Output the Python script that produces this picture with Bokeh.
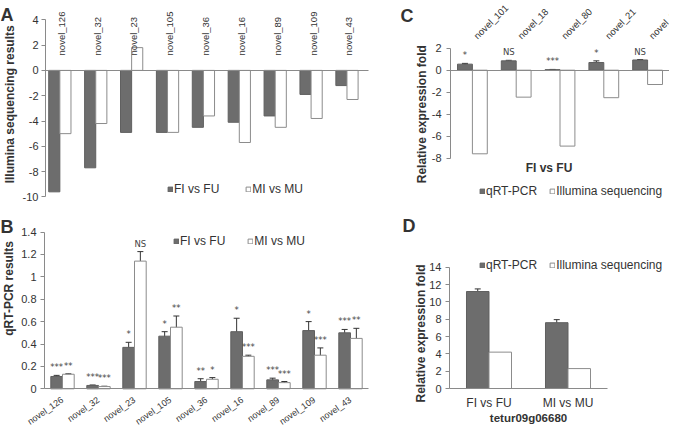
import math
from bokeh.plotting import figure
from bokeh.models import (Range1d, FixedTicker, ColumnDataSource, LabelSet, Label,
                          Legend, LegendItem, Whisker, TeeHead, LinearAxis)
from bokeh.core.properties import value
from bokeh.layouts import row, column
from bokeh.embed import file_html
from bokeh.resources import INLINE

# ---------------- data ----------------
A_genes = ["novel_126", "novel_32", "novel_23", "novel_105", "novel_36",
           "novel_16", "novel_89", "novel_109", "novel_43"]
A_fi_fu = [-9.6, -7.7, -4.9, -4.9, -4.5, -4.1, -3.6, -1.9, -1.2]
A_mi_mu = [-5.0, -4.2, 1.8, -4.9, -3.6, -5.7, -4.5, -3.8, -2.3]
A_ticks = [-10, -8, -6, -4, -2, 0, 2, 4]
A_tick_labels = ["-10", "-8", "-6", "-4", "-2", "0", "2", "4"]

B_genes = ["novel_126", "novel_32", "novel_23", "novel_105", "novel_36",
           "novel_16", "novel_89", "novel_109", "novel_43"]
B_fi_fu = [0.11, 0.03, 0.37, 0.47, 0.065, 0.51, 0.08, 0.52, 0.50]
B_fi_fu_err = [0.01, 0.004, 0.045, 0.04, 0.025, 0.12, 0.015, 0.08, 0.03]
B_mi_mu = [0.13, 0.02, 1.14, 0.55, 0.085, 0.29, 0.055, 0.30, 0.45]
B_mi_mu_err = [0.004, 0.003, 0.085, 0.10, 0.015, 0.01, 0.01, 0.065, 0.09]
B_fi_sig = ["***", "***", "*", "*", "**", "*", "***", "*", "***"]
B_mi_sig = ["**", "***", "NS", "**", "*", "***", "***", "***", "**"]
B_ticks = [0, 0.2, 0.4, 0.6, 0.8, 1, 1.2, 1.4]
B_tick_labels = ["0", "0.2", "0.4", "0.6", "0.8", "1", "1.2", "1.4"]

C_genes = ["novel_101", "novel_18", "novel_80", "novel_21", "novel_87"]
C_qrt = [0.55, 0.85, 0.05, 0.70, 0.93]
C_qrt_err = [0.07, 0.05, 0.02, 0.15, 0.04]
C_illumina = [-7.6, -2.45, -6.9, -2.5, -1.3]
C_sig = ["*", "NS", "***", "*", "NS"]
C_ticks = [-8, -6, -4, -2, 0, 2]
C_tick_labels = ["-8", "-6", "-4", "-2", "0", "2"]

D_groups = ["FI vs FU", "MI vs MU"]
D_qrt = [11.2, 7.6]
D_qrt_err = [0.3, 0.35]
D_illumina = [4.2, 2.3]
D_ticks = [0, 2, 4, 6, 8, 10, 12, 14]
D_tick_labels = ["0", "2", "4", "6", "8", "10", "12", "14"]

# ---------------- styles ----------------
FONT = "Liberation Sans"
SIGFONT = "DejaVu Sans"
DARK = "#6d6d6d"
DARK_LINE = "#606060"
WHITE_LINE = "#8c8c8c"
AXIS = "#8a8a8a"
TXT = "#333333"
ERR = "#333333"
SIGCOL = "#444444"


def make_fig(width, height, x_px0, x_v0, x_ppu, y_px0, y_v0, y_ppu):
    """Frame covers the whole figure; ranges set from a pixel anchor and a scale."""
    xs = x_v0 - x_px0 / x_ppu
    ye = y_v0 + y_px0 / y_ppu
    p = figure(width=width, height=height,
               x_range=Range1d(xs, xs + width / x_ppu),
               y_range=Range1d(ye - height / y_ppu, ye),
               output_backend="svg", toolbar_location=None,
               x_axis_location=None, y_axis_location=None,
               min_border=0, title_location=None)
    p.outline_line_color = None
    p.grid.visible = False
    return p


def add_axes(p, xb, yb, ticks, labels, standoff):
    ya = LinearAxis(fixed_location=xb[0], bounds=yb,
                    ticker=FixedTicker(ticks=ticks, minor_ticks=[]),
                    major_label_overrides={t: l for t, l in zip(ticks, labels)},
                    axis_line_color=AXIS, major_tick_line_color=AXIS,
                    major_tick_out=4, major_tick_in=0, minor_tick_line_color=None,
                    major_label_text_font=FONT, major_label_text_font_size="11px",
                    major_label_text_color=TXT, major_label_standoff=standoff)
    p.add_layout(ya, "left")
    xa = LinearAxis(fixed_location=0, bounds=xb,
                    ticker=FixedTicker(ticks=[], minor_ticks=[]),
                    axis_line_color=AXIS, major_tick_line_color=None,
                    minor_tick_line_color=None, major_label_text_font_size="0px")
    p.add_layout(xa, "below")


def add_text(p, text, x, y, xo, yo, size, bold=False, angle=0.0, align="left",
             baseline="alphabetic"):
    p.add_layout(Label(x=x, y=y, x_offset=xo, y_offset=yo, text=text, angle=angle,
                       text_font=FONT, text_font_size=size, text_color=TXT,
                       text_font_style="bold" if bold else "normal",
                       text_align=align, text_baseline=baseline))


def labelset(p, src, y, text, xo, yo, angle, align, baseline, font, size, color):
    p.add_layout(LabelSet(x="x", y=y, text=text, source=src, x_offset=xo, y_offset=yo,
                          angle=angle, text_align=align, text_baseline=baseline,
                          text_font=value(font), text_font_size=value(size),
                          text_color=color))


def whiskers(p, src):
    p.add_layout(Whisker(source=src, base="x", lower="lo", upper="hi", line_color=ERR,
                         line_width=1,
                         lower_head=TeeHead(size=6, line_color=ERR, line_width=1),
                         upper_head=TeeHead(size=6, line_color=ERR, line_width=1)))


def make_legend(items, loc, spacing, glyph=6, standoff=1):
    return Legend(items=items, location=loc, orientation="horizontal",
                  glyph_width=glyph, glyph_height=glyph, label_standoff=standoff,
                  spacing=spacing, padding=0, margin=0, border_line_color=None,
                  background_fill_alpha=0, label_text_font=FONT,
                  label_text_font_size="12px", label_text_color=TXT, label_height=8)


def err_src(xs, vals, errs, sig=None):
    d = dict(x=xs, lo=[v - e for v, e in zip(vals, errs)],
             hi=[v + e for v, e in zip(vals, errs)])
    if sig is not None:
        d["s"] = sig
    return ColumnDataSource(d)


# ---------------- panel A ----------------
nA = len(A_genes)
wA = 0.31
pA = make_fig(393, 202, 45, -0.4, 35.89, 19.3, 4, 12.65)
add_axes(pA, (-0.4, 8.6), (-10, 4), A_ticks, A_tick_labels, 3)
xA = list(range(nA))
rA1 = pA.vbar(x=[i - wA / 2 for i in xA], top=A_fi_fu, bottom=0, width=wA,
              fill_color=DARK, line_color=DARK_LINE)
rA2 = pA.vbar(x=[i + wA / 2 for i in xA], top=A_mi_mu, bottom=0, width=wA,
              fill_color="white", line_color=WHITE_LINE)
srcA = ColumnDataSource(dict(x=xA, y=[0] * nA, t=A_genes))
labelset(pA, srcA, "y", "t", 2, 15, math.pi / 2, "left", "middle", FONT, "9.5px", TXT)
pA.add_layout(make_legend([LegendItem(label="FI vs FU", renderers=[rA1]),
                           LegendItem(label="MI vs MU", renderers=[rA2])], (167, 6), 26))
add_text(pA, "A", -0.4, 4, -45, 5, "18px", bold=True)
add_text(pA, "Illumina sequencing results", -0.4, -3, -35.5, 4, "12px", bold=True,
         angle=math.pi / 2, align="center", baseline="middle")

# ---------------- panel B ----------------
nB = len(B_genes)
wB = 0.325
pB = make_fig(393, 224, 44, -0.5, 36, 186.3, 0, 112)
add_axes(pB, (-0.5, 8.5), (0, 1.4), B_ticks, B_tick_labels, 4)
xB = list(range(nB))
xB1 = [i - wB / 2 for i in xB]
xB2 = [i + wB / 2 for i in xB]
rB1 = pB.vbar(x=xB1, top=B_fi_fu, bottom=0, width=wB, fill_color=DARK, line_color=DARK_LINE)
rB2 = pB.vbar(x=xB2, top=B_mi_mu, bottom=0, width=wB, fill_color="white", line_color=WHITE_LINE)
for xs, vals, errs, sig in ((xB1, B_fi_fu, B_fi_fu_err, B_fi_sig),
                            (xB2, B_mi_mu, B_mi_mu_err, B_mi_sig)):
    src = err_src(xs, vals, errs, sig)
    whiskers(pB, src)
    labelset(pB, src, "hi", "s", 0, 5, 0, "center", "alphabetic", SIGFONT, "8.5px", SIGCOL)
srcB = ColumnDataSource(dict(x=xB, y=[0] * nB, t=B_genes))
labelset(pB, srcB, "y", "t", 0, -10, 0.61, "right", "middle", FONT, "9px", TXT)
pB.add_layout(make_legend([LegendItem(label="FI vs FU", renderers=[rB1]),
                           LegendItem(label="MI vs MU", renderers=[rB2])], (173, 178), 22))
add_text(pB, "B", -0.5, 1.4, -44, 5, "18px", bold=True)
add_text(pB, "qRT-PCR results", -0.5, 0.7, -36, 22, "12px", bold=True,
         angle=math.pi / 2, align="center", baseline="middle")

# ---------------- panel C ----------------
nC = len(C_genes)
wC = 0.34
pC = make_fig(276, 204, 57, -0.5, 43.8, 69.7, 0, 11)
add_axes(pC, (-0.5, 4.5), (-8, 2), C_ticks, C_tick_labels, 5)
xC = list(range(nC))
xC1 = [i - wC / 2 for i in xC]
xC2 = [i + wC / 2 for i in xC]
rC1 = pC.vbar(x=xC1, top=C_qrt, bottom=0, width=wC, fill_color=DARK, line_color=DARK_LINE)
rC2 = pC.vbar(x=xC2, top=C_illumina, bottom=0, width=wC, fill_color="white", line_color=WHITE_LINE)
srcC = err_src(xC1, C_qrt, C_qrt_err, C_sig)
whiskers(pC, srcC)
labelset(pC, srcC, "hi", "s", 0, 5, 0, "center", "alphabetic", SIGFONT, "8.5px", SIGCOL)
srcCl = ColumnDataSource(dict(x=xC, y=[2] * nC, t=C_genes))
labelset(pC, srcCl, "y", "t", 3, 11, math.pi / 4, "left", "middle", FONT, "9.5px", TXT)
pC.add_layout(make_legend([LegendItem(label="qRT-PCR", renderers=[rC1]),
                           LegendItem(label="Illumina sequencing", renderers=[rC2])], (86, 6), 12))
add_text(pC, "C", -0.5, 2, -50, 32, "18px", bold=True)
add_text(pC, "Relative expression fold", -0.5, -3, -29, -11, "12px", bold=True,
         angle=math.pi / 2, align="center", baseline="middle")
add_text(pC, "FI vs FU", 2, -8, -11, -9.6, "12px", bold=True, align="center", baseline="middle")

# ---------------- panel D ----------------
nD = len(D_groups)
wD = 0.285
pD = make_fig(276, 222, 56, -0.5, 79, 184, 0, 8.66)
add_axes(pD, (-0.5, 1.5), (0, 14), D_ticks, D_tick_labels, 4)
xD = list(range(nD))
xD1 = [i - wD / 2 for i in xD]
xD2 = [i + wD / 2 for i in xD]
rD1 = pD.vbar(x=xD1, top=D_qrt, bottom=0, width=wD, fill_color=DARK, line_color=DARK_LINE)
rD2 = pD.vbar(x=xD2, top=D_illumina, bottom=0, width=wD, fill_color="white", line_color=WHITE_LINE)
whiskers(pD, err_src(xD1, D_qrt, D_qrt_err))
srcDl = ColumnDataSource(dict(x=xD, y=[0] * nD, t=D_groups))
labelset(pD, srcDl, "y", "t", 0, -14.3, 0, "center", "middle", FONT, "12px", TXT)
add_text(pD, "tetur09g06680", 0.5, 0, 0, -29.3, "11.5px", bold=True, align="center",
         baseline="middle")
pD.add_layout(make_legend([LegendItem(label="qRT-PCR", renderers=[rD1]),
                           LegendItem(label="Illumina sequencing", renderers=[rD2])], (86, 154), 12))
add_text(pD, "D", -0.5, 14, -47, 41, "18px", bold=True)
add_text(pD, "Relative expression fold", -0.5, 7, -29, -5.6, "12px", bold=True,
         angle=math.pi / 2, align="center", baseline="middle")

layout = row(column(pA, pB), column(pC, pD))
open("out.html", "w").write(file_html(layout, INLINE))
